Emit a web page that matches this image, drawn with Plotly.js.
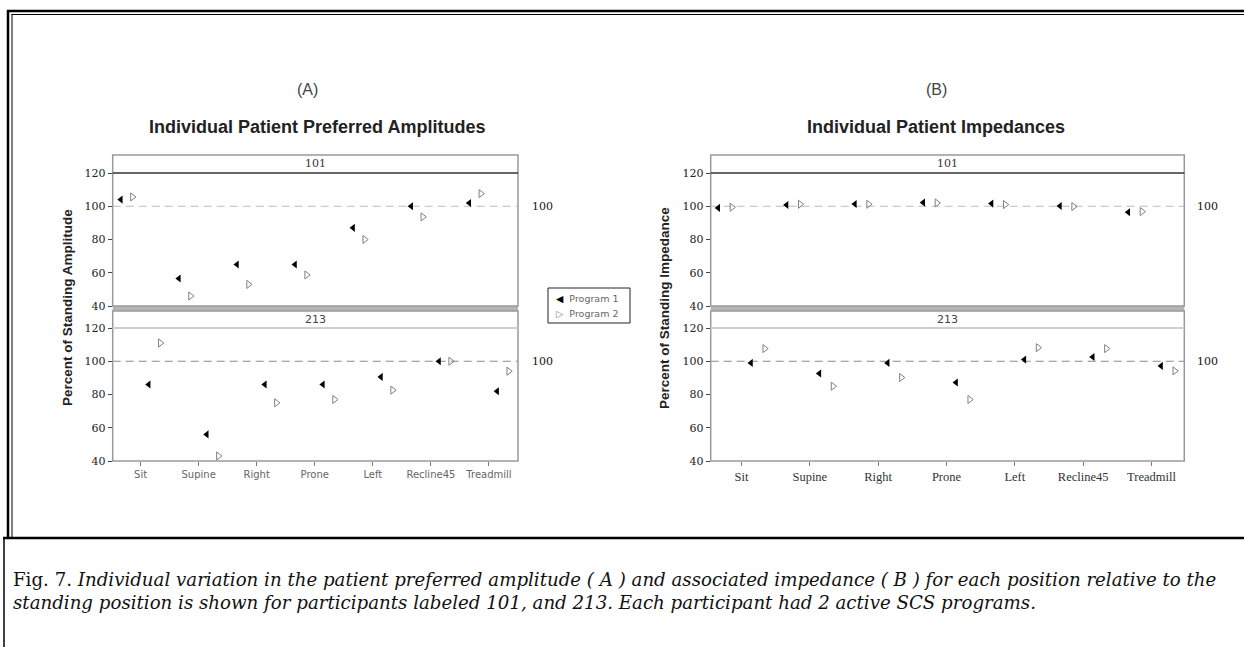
<!DOCTYPE html>
<html>
<head>
<meta charset="utf-8">
<script src="https://cdn.plot.ly/plotly-3.0.1.min.js"></script>
<style>html,body{margin:0;padding:0;background:#fff;}#chart{width:1244px;height:647px;}</style>
</head>
<body>
<div id="chart"></div>
<script>
// ---- data ----
const categories = ['Sit', 'Supine', 'Right', 'Prone', 'Left', 'Recline45', 'Treadmill'];
const yTicks = [40, 60, 80, 100, 120];
const referenceValue = 100;
const amp101_p1 = [104, 56.5, 65, 65, 87, 100, 102];
const amp101_p2 = [105.6, 46, 53, 58.7, 80, 93.6, 107.6];
const amp213_p1 = [86, 56, 86, 86, 90.6, 100, 82];
const amp213_p2 = [111, 43, 75, 77, 82.6, 100, 94];
const imp101_p1 = [99, 100.8, 101.4, 102.2, 101.6, 100.2, 96.4];
const imp101_p2 = [99.4, 101.2, 101.2, 102, 101, 99.8, 96.8];
const imp213_p1 = [99, 92.6, 99, 87.2, 101, 102.6, 97.2];
const imp213_p2 = [107.6, 85, 90.2, 77, 108.2, 107.6, 94.2];
const seriesNames = ['Program 1', 'Program 2'];

// ---- geometry helpers ----
const W = 1244, H = 647;
const X = p => p / W;
const Y = p => 1 - p / H;
const idx = categories.map((_, i) => i);

const A = {xl: 112.7, xr: 518, range: [-0.48, 6.5]};
const B = {xl: 710.7, xr: 1184.3, range: [-0.45, 6.48]};
const upper = {top: 155, strip: 173, bottom: 306};
const lower = {top: 311, strip: 328, bottom: 461};

const p1Color = '#000', p2Color = '#808080';

function series(vals, off, which, xa, ya) {
  const p1 = which === 0;
  return {
    type: 'scatter', mode: 'markers',
    x: idx.map(i => i + off), y: vals,
    xaxis: xa, yaxis: ya, name: seriesNames[which], showlegend: false,
    cliponaxis: false, hoverinfo: 'skip',
    marker: p1
      ? {symbol: 'triangle-left', color: p1Color, size: 7, line: {width: 0}}
      : {symbol: 'triangle-right-open', color: p2Color, size: 7, line: {width: 1, color: p2Color}}
  };
}

const data = [
  series(amp213_p1, 0.14, 0, 'x', 'y'),
  series(amp213_p2, 0.34, 1, 'x', 'y'),
  series(amp101_p1, -0.34, 0, 'x2', 'y2'),
  series(amp101_p2, -0.14, 1, 'x2', 'y2'),
  series(imp213_p1, 0.14, 0, 'x3', 'y3'),
  series(imp213_p2, 0.34, 1, 'x3', 'y3'),
  series(imp101_p1, -0.34, 0, 'x4', 'y4'),
  series(imp101_p2, -0.14, 1, 'x4', 'y4')
];

function xAxis(p, anchor, showLabels, font) {
  return {
    domain: [X(p.xl), X(p.xr)], range: p.range, anchor: anchor,
    tickmode: 'array', tickvals: idx, ticktext: categories,
    showticklabels: showLabels, ticks: showLabels ? 'outside' : '',
    ticklen: 4, tickwidth: 1, tickcolor: '#777',
    showline: false, showgrid: false, zeroline: false, fixedrange: true,
    tickfont: font
  };
}
function yAxis(s, anchor) {
  return {
    domain: [Y(s.bottom), Y(s.strip)], range: [40, 120], anchor: anchor,
    tickmode: 'array', tickvals: yTicks,
    ticks: 'outside', ticklen: 4, tickwidth: 1, tickcolor: '#444',
    showline: false, showgrid: false, zeroline: false, fixedrange: true,
    tickfont: {family: 'DejaVu Serif', size: 11, color: '#222'}
  };
}

const fontA = {family: 'DejaVu Sans', size: 10, color: '#666'};
const fontB = {family: 'Liberation Serif', size: 12.5, color: '#333'};

const shapes = [];
function panelShapes(p, ya_up, ya_lo) {
  const x0 = X(p.xl), x1 = X(p.xr);
  shapes.push({type: 'rect', xref: 'paper', yref: 'paper', x0: x0, x1: x1, y0: Y(upper.bottom), y1: Y(lower.top), fillcolor: '#b5b5b5', line: {width: 0}, layer: 'below'});
  shapes.push({type: 'rect', xref: 'paper', yref: 'paper', x0: x0, x1: x1, y0: Y(upper.bottom), y1: Y(upper.top), line: {color: '#9a9a9a', width: 1.5}});
  shapes.push({type: 'rect', xref: 'paper', yref: 'paper', x0: x0, x1: x1, y0: Y(lower.bottom), y1: Y(lower.top), line: {color: '#9a9a9a', width: 1.5}});
  shapes.push({type: 'line', xref: 'paper', yref: 'paper', x0: x0, x1: x1, y0: Y(upper.strip), y1: Y(upper.strip), line: {color: '#333', width: 1.5}});
  shapes.push({type: 'line', xref: 'paper', yref: 'paper', x0: x0, x1: x1, y0: Y(lower.strip), y1: Y(lower.strip), line: {color: '#cfcfcf', width: 2}});
  shapes.push({type: 'line', xref: 'paper', yref: ya_up, x0: x0, x1: x1, y0: referenceValue, y1: referenceValue, line: {color: '#bdbdbd', width: 1, dash: '8px,5px'}, layer: 'below'});
  shapes.push({type: 'line', xref: 'paper', yref: ya_lo, x0: x0, x1: x1, y0: referenceValue, y1: referenceValue, line: {color: '#8a8a8a', width: 1, dash: '8px,5px'}, layer: 'below'});
}
panelShapes(A, 'y2', 'y');
panelShapes(B, 'y4', 'y3');

// outer frame
const blk = '#000';
shapes.push({type: 'line', xref: 'paper', yref: 'paper', x0: X(7), x1: 1, y0: Y(11), y1: Y(11), line: {color: blk, width: 2.5}});
shapes.push({type: 'line', xref: 'paper', yref: 'paper', x0: X(11.5), x1: 1, y0: Y(14.5), y1: Y(14.5), line: {color: blk, width: 1}});
shapes.push({type: 'line', xref: 'paper', yref: 'paper', x0: X(8), x1: X(8), y0: Y(10), y1: Y(538), line: {color: blk, width: 2.5}});
shapes.push({type: 'line', xref: 'paper', yref: 'paper', x0: X(12), x1: X(12), y0: Y(14), y1: Y(538), line: {color: blk, width: 1}});
shapes.push({type: 'line', xref: 'paper', yref: 'paper', x0: X(3), x1: 1, y0: Y(538), y1: Y(538), line: {color: blk, width: 2.5}});
shapes.push({type: 'line', xref: 'paper', yref: 'paper', x0: X(4), x1: X(4), y0: Y(538), y1: 0, line: {color: blk, width: 1.5}});

// legend box
shapes.push({type: 'rect', xref: 'paper', yref: 'paper', x0: X(548), x1: X(630), y0: Y(323), y1: Y(288), line: {color: '#222', width: 1}, fillcolor: '#fff'});

function ann(text, px, py, font, extra) {
  return Object.assign({text: text, xref: 'paper', yref: 'paper', x: X(px), y: Y(py), showarrow: false, xanchor: 'center', yanchor: 'middle', font: font}, extra || {});
}
const sans = 'Liberation Sans, Arial, sans-serif';
const capFont = {family: 'DejaVu Serif', size: 18.2, color: '#111'};
const legFont = {family: 'DejaVu Sans', size: 9.5, color: '#666'};
const annotations = [
  ann('(A)', 307, 90, {family: sans, size: 16, color: '#444'}),
  ann('<b>Individual Patient Preferred Amplitudes</b>', 317, 127, {family: sans, size: 18, color: '#222'}),
  ann('(B)', 936.5, 90, {family: sans, size: 16, color: '#444'}),
  ann('<b>Individual Patient Impedances</b>', 936, 127, {family: sans, size: 18, color: '#222'}),
  ann('101', (A.xl + A.xr) / 2, 164, {family: 'DejaVu Serif', size: 11, color: '#333'}),
  ann('213', (A.xl + A.xr) / 2, 320, {family: 'DejaVu Sans', size: 11, color: '#444'}),
  ann('101', (B.xl + B.xr) / 2, 164, {family: 'DejaVu Serif', size: 11, color: '#333'}),
  ann('213', (B.xl + B.xr) / 2, 320, {family: 'DejaVu Sans', size: 11, color: '#444'}),
  ann('<b>Percent of Standing Amplitude</b>', 67, 308, {family: sans, size: 13.5, color: '#222'}, {textangle: -90}),
  ann('<b>Percent of Standing Impedance</b>', 664, 308, {family: sans, size: 13.5, color: '#222'}, {textangle: -90}),
  Object.assign(ann(String(referenceValue), 530, 0, {family: 'DejaVu Serif', size: 11, color: '#111'}, {xanchor: 'left'}), {yref: 'y2', y: referenceValue}),
  Object.assign(ann(String(referenceValue), 530, 0, {family: 'DejaVu Serif', size: 11, color: '#111'}, {xanchor: 'left'}), {yref: 'y', y: referenceValue}),
  Object.assign(ann(String(referenceValue), 1195, 0, {family: 'DejaVu Serif', size: 11, color: '#111'}, {xanchor: 'left'}), {yref: 'y4', y: referenceValue}),
  Object.assign(ann(String(referenceValue), 1195, 0, {family: 'DejaVu Serif', size: 11, color: '#111'}, {xanchor: 'left'}), {yref: 'y3', y: referenceValue}),
  // legend entries
  ann('<span style="color:' + p1Color + '">\u25C0</span>  ' + seriesNames[0], 554, 298, legFont, {xanchor: 'left'}),
  ann('<span style="color:' + p2Color + '">\u25B7</span>  ' + seriesNames[1], 554, 313, legFont, {xanchor: 'left'}),
  // caption
  ann('Fig. 7. <i>Individual variation in the patient preferred amplitude ( A ) and associated impedance ( B ) for each position relative to the</i>', 11, 579, capFont, {xanchor: 'left'}),
  ann('<i>standing position is shown for participants labeled 101, and 213. Each participant had 2 active SCS programs.</i>', 11, 602, capFont, {xanchor: 'left'})
];

const layout = {
  width: W, height: H, autosize: false,
  margin: {l: 0, r: 0, t: 0, b: 0, pad: 0},
  paper_bgcolor: '#fff', plot_bgcolor: 'rgba(0,0,0,0)',
  showlegend: false,
  xaxis: xAxis(A, 'y', true, fontA),
  yaxis: yAxis(lower, 'x'),
  xaxis2: xAxis(A, 'y2', false, fontA),
  yaxis2: yAxis(upper, 'x2'),
  xaxis3: xAxis(B, 'y3', true, fontB),
  yaxis3: yAxis(lower, 'x3'),
  xaxis4: xAxis(B, 'y4', false, fontB),
  yaxis4: yAxis(upper, 'x4'),
  shapes: shapes,
  annotations: annotations
};

Plotly.newPlot('chart', data, layout, {displayModeBar: false, staticPlot: true});
</script>
</body>
</html>
